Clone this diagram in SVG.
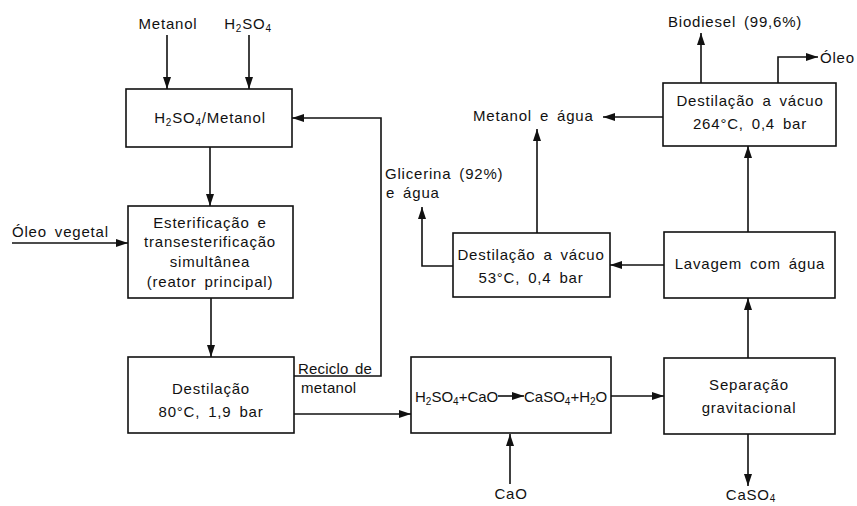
<svg xmlns="http://www.w3.org/2000/svg" width="857" height="506" viewBox="0 0 857 506">
<style>
text{font-family:"Liberation Sans",Arial,sans-serif;font-size:15px;fill:#111;letter-spacing:0.8px;word-spacing:3px}
.c{text-anchor:middle}
.box{fill:#fff;stroke:#111;stroke-width:1.6}
.ln{fill:none;stroke:#111;stroke-width:1.6}
.sub{font-size:10px}
.eq{letter-spacing:0;word-spacing:0}
</style>
<defs>
<marker id="ah" markerWidth="12" markerHeight="8" refX="12" refY="4" orient="auto" markerUnits="userSpaceOnUse">
<path d="M0,0 L12,4 L0,8 Z" fill="#111"/>
</marker>
</defs>
<rect width="857" height="506" fill="#fff"/>

<g id="connectors">
<path class="ln" d="M167,35 V89" marker-end="url(#ah)"/>
<path class="ln" d="M249,35 V89" marker-end="url(#ah)"/>
<path class="ln" d="M210,147 V206" marker-end="url(#ah)"/>
<path class="ln" d="M12,243 H128" marker-end="url(#ah)"/>
<path class="ln" d="M211,298 V357" marker-end="url(#ah)"/>
<path class="ln" d="M294,376 H381 V118 H292" marker-end="url(#ah)"/>
<path class="ln" d="M294,414 H411" marker-end="url(#ah)"/>
<path class="ln" d="M510,484 V434" marker-end="url(#ah)"/>
<path class="ln" d="M611,396 H664" marker-end="url(#ah)"/>
<path class="ln" d="M748,434 V486" marker-end="url(#ah)"/>
<path class="ln" d="M748,358 V298" marker-end="url(#ah)"/>
<path class="ln" d="M664,265 H610" marker-end="url(#ah)"/>
<path class="ln" d="M453,266 H422 V207" marker-end="url(#ah)"/>
<path class="ln" d="M537,233 V129" marker-end="url(#ah)"/>
<path class="ln" d="M748,232 V146" marker-end="url(#ah)"/>
<path class="ln" d="M663,117 H603" marker-end="url(#ah)"/>
<path class="ln" d="M701,83 V33" marker-end="url(#ah)"/>
<path class="ln" d="M778,83 V57 H818" marker-end="url(#ah)"/>
</g>

<g id="label-metanol"><text class="c" x="168" y="29">Metanol</text></g>
<g id="label-h2so4"><text class="c" x="248" y="29">H<tspan class="sub" dy="3">2</tspan><tspan dy="-3">SO</tspan><tspan class="sub" dy="3">4</tspan></text></g>

<g id="n-mix">
<rect class="box" x="126" y="89" width="166" height="58"/>
<text class="c" x="210" y="123">H<tspan class="sub" dy="3">2</tspan><tspan dy="-3">SO</tspan><tspan class="sub" dy="3">4</tspan><tspan dy="-3">/Metanol</tspan></text>
</g>

<g id="label-oleo-vegetal"><text x="12" y="237">Óleo vegetal</text></g>

<g id="n-reator">
<rect class="box" x="128" y="206" width="165" height="92"/>
<text class="c" x="210" y="228">Esterificação e</text>
<text class="c" x="210" y="247">transesterificação</text>
<text class="c" x="210" y="267">simultânea</text>
<text class="c" x="210" y="287">(reator principal)</text>
</g>

<g id="n-destilacao">
<rect class="box" x="128" y="357" width="166" height="76"/>
<text class="c" x="211" y="394">Destilação</text>
<text class="c" x="211" y="417">80°C, 1,9 bar</text>
</g>

<g id="label-reciclo">
<text x="298" y="374" style="letter-spacing:0.2px;word-spacing:2px">Reciclo de</text>
<text x="301" y="393" style="letter-spacing:0.3px">metanol</text>
</g>

<g id="n-neutralizacao">
<rect class="box" x="411" y="357" width="200" height="76"/>
<text class="eq" x="415" y="402">H<tspan class="sub" dy="3">2</tspan><tspan dy="-3">SO</tspan><tspan class="sub" dy="3">4</tspan><tspan dy="-3">+CaO</tspan></text>
<path class="ln" d="M498,396 H524" marker-end="url(#ah)"/>
<text class="eq" x="524" y="402">CaSO<tspan class="sub" dy="3">4</tspan><tspan dy="-3">+H</tspan><tspan class="sub" dy="3">2</tspan><tspan dy="-3">O</tspan></text>
</g>

<g id="label-cao"><text class="c" x="511" y="499">CaO</text></g>

<g id="n-separacao">
<rect class="box" x="664" y="358" width="171" height="76"/>
<text class="c" x="749" y="390">Separação</text>
<text class="c" x="749" y="413">gravitacional</text>
</g>

<g id="label-caso4"><text class="c" x="751" y="500">CaSO<tspan class="sub" dy="2">4</tspan></text></g>

<g id="n-lavagem">
<rect class="box" x="664" y="232" width="171" height="66"/>
<text class="c" x="750" y="269">Lavagem com água</text>
</g>

<g id="n-vacuo53">
<rect class="box" x="453" y="233" width="157" height="64"/>
<text class="c" x="531" y="260">Destilação a vácuo</text>
<text class="c" x="531" y="283">53°C, 0,4 bar</text>
</g>

<g id="label-glicerina">
<text x="385" y="179">Glicerina (92%)</text>
<text x="386" y="198">e água</text>
</g>

<g id="label-metanol-agua"><text x="473" y="121">Metanol e água</text></g>

<g id="n-vacuo264">
<rect class="box" x="663" y="83" width="173" height="63"/>
<text class="c" x="750" y="106">Destilação a vácuo</text>
<text class="c" x="750" y="129">264°C, 0,4 bar</text>
</g>

<g id="label-biodiesel"><text x="668" y="27">Biodiesel (99,6%)</text></g>
<g id="label-oleo"><text x="820" y="63">Óleo</text></g>
</svg>
